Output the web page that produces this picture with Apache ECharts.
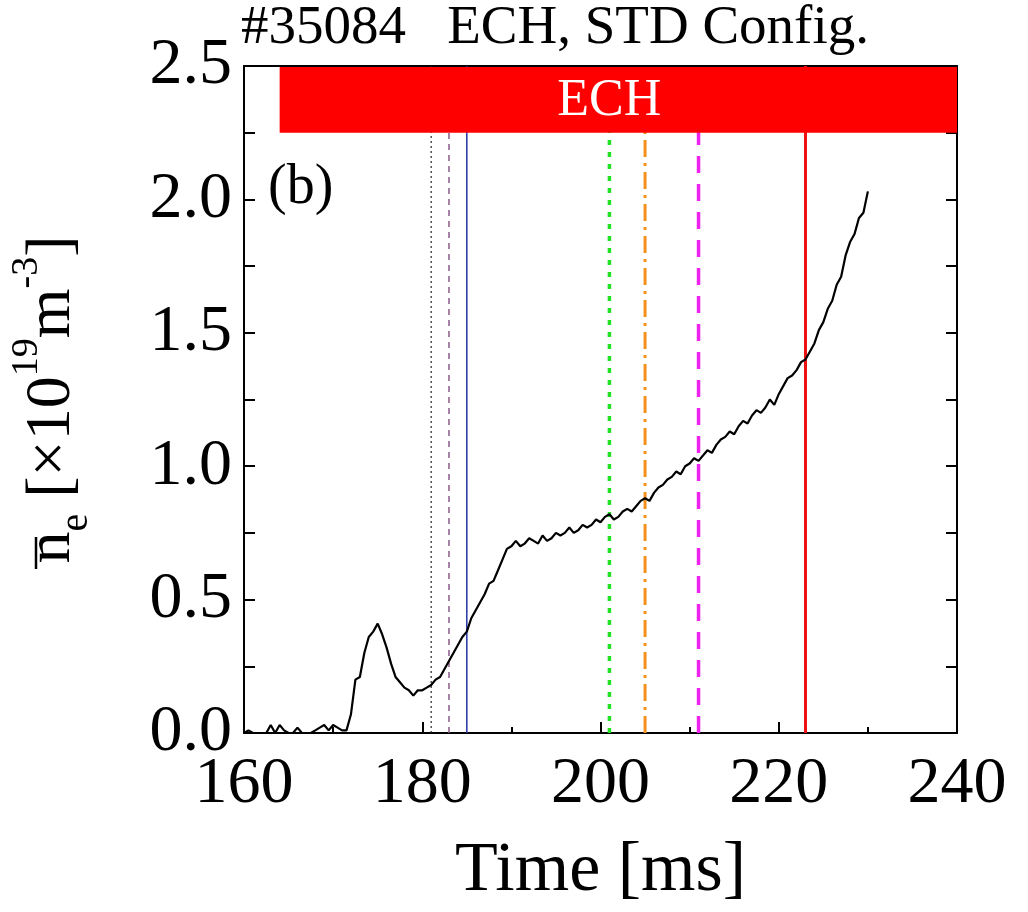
<!DOCTYPE html>
<html><head><meta charset="utf-8">
<script src="https://cdn.jsdelivr.net/npm/echarts@6/dist/echarts.min.js"></script>
<style>html,body{margin:0;padding:0;background:#fff}#c{width:1028px;height:912px}</style>
</head><body><div id="c"></div>
<script>
const timeMs = [
160.0,160.5,161.0,161.5,162.0,162.5,163.0,163.5,164.0,164.5,165.0,165.5,166.0,166.5,167.0,167.5,168.0,168.5,169.0,169.5,
170.0,170.5,171.0,171.5,172.0,172.5,173.0,173.5,174.0,174.5,175.0,175.5,176.0,176.5,177.0,177.5,178.0,178.5,179.0,179.5,
180.0,180.5,181.0,181.5,182.0,182.5,183.0,183.5,184.0,184.5,185.0,185.5,186.0,186.5,187.0,187.5,188.0,188.5,189.0,189.5,
190.0,190.5,191.0,191.5,192.0,192.5,193.0,193.5,194.0,194.5,195.0,195.5,196.0,196.5,197.0,197.5,198.0,198.5,199.0,199.5,
200.0,200.5,201.0,201.5,202.0,202.5,203.0,203.5,204.0,204.5,205.0,205.5,206.0,206.5,207.0,207.5,208.0,208.5,209.0,209.5,
210.0,210.5,211.0,211.5,212.0,212.5,213.0,213.5,214.0,214.5,215.0,215.5,216.0,216.5,217.0,217.5,218.0,218.5,219.0,219.5,
220.0,220.5,221.0,221.5,222.0,222.5,223.0,223.5,224.0,224.5,225.0,225.5,226.0,226.5,227.0,227.5,228.0,228.5,229.0,229.5,
230.0];
const density = [
0.00,0.01,0.00,0.00,0.00,0.00,0.03,0.00,0.03,0.01,0.00,0.00,0.02,0.00,0.00,0.00,0.01,0.02,0.03,0.01,
0.03,0.02,0.01,0.01,0.07,0.20,0.21,0.30,0.36,0.38,0.41,0.37,0.32,0.26,0.21,0.19,0.17,0.16,0.14,0.16,
0.16,0.17,0.18,0.20,0.21,0.24,0.27,0.30,0.33,0.36,0.38,0.43,0.46,0.49,0.52,0.56,0.57,0.61,0.65,0.69,
0.70,0.72,0.70,0.71,0.73,0.72,0.71,0.74,0.72,0.73,0.75,0.74,0.75,0.77,0.75,0.76,0.78,0.77,0.78,0.80,
0.79,0.81,0.82,0.80,0.81,0.83,0.84,0.83,0.85,0.87,0.88,0.87,0.90,0.92,0.93,0.95,0.96,0.98,0.97,1.00,
1.01,1.03,1.02,1.04,1.06,1.05,1.08,1.10,1.11,1.13,1.12,1.15,1.17,1.16,1.19,1.21,1.20,1.22,1.25,1.23,
1.27,1.30,1.33,1.34,1.36,1.39,1.40,1.43,1.46,1.51,1.54,1.59,1.62,1.68,1.71,1.79,1.84,1.87,1.93,1.95,
2.03];
const markerTimes = [181, 183, 185, 201, 205, 211, 223];
const markerColors = ['#222222', '#8a5a8a', '#2233aa', '#22e022', '#f5901e', '#ee22ee', '#ee1111'];
const markerWidths = [1.2, 1.5, 1.5, 3.5, 3, 3.5, 3];
const markerDashes = [[2, 3], [6, 5], 'solid', [5, 7], [17, 6, 3, 6], [17, 11], 'solid'];
const echBar = [[164, 240, 2.25, 2.5]];
const echLabel = 'ECH';
const xTickLabels = {160: '160', 180: '180', 200: '200', 220: '220', 240: '240'};
const yTickLabels = {0: '0.0', 0.5: '0.5', 1: '1.0', 1.5: '1.5', 2: '2.0', 2.5: '2.5'};
const titleText = '#35084   ECH, STD Config.';
const panelText = '(b)';

const FONT = '"Liberation Serif", "Times New Roman", serif';
const chart = echarts.init(document.getElementById('c'), null, {renderer: 'canvas'});

const curve = timeMs.map((t, i) => [t, density[i]]);
const markerSeries = markerTimes.map((t, i) => ({
  type: 'line', z: 2, silent: true, showSymbol: false, animation: false,
  data: [[t, 0], [t, 2.5]],
  lineStyle: {color: markerColors[i], width: markerWidths[i], type: markerDashes[i]}
}));

const axisCommon = {
  axisLine: {show: true, onZero: false, lineStyle: {color: '#000', width: 2}},
  splitLine: {show: false}
};

chart.setOption({
  animation: false,
  backgroundColor: '#fff',
  title: [
    {text: titleText, left: 241, top: 1, padding: 0,
     textStyle: {fontFamily: FONT, fontSize: 55, fontWeight: 'normal', color: '#000'}},
    {text: panelText, left: 268, top: 160, padding: 0,
     textStyle: {fontFamily: FONT, fontSize: 56, fontWeight: 'normal', color: '#000'}}
  ],
  grid: {left: 241, right: 71, top: 66, bottom: 166, containLabel: false},
  xAxis: [
    Object.assign({}, axisCommon, {
      type: 'value', min: 160, max: 240, interval: 20, position: 'bottom',
      name: 'Time [ms]', nameLocation: 'middle', nameGap: 104,
      nameTextStyle: {fontFamily: FONT, fontSize: 70, color: '#000'},
      axisTick: {show: true, inside: true, length: 11, lineStyle: {color: '#000', width: 2}},
      minorTick: {show: true, splitNumber: 2, length: 6, lineStyle: {color: '#000', width: 2}},
      axisLabel: {margin: 19, fontFamily: FONT, fontSize: 66, color: '#000',
                  formatter: v => xTickLabels[v] || ''}
    }),
    Object.assign({}, axisCommon, {
      type: 'value', min: 160, max: 240, interval: 20, position: 'top',
      axisTick: {show: true, inside: true, length: 11, lineStyle: {color: '#000', width: 2}},
      minorTick: {show: true, splitNumber: 2, length: 6, lineStyle: {color: '#000', width: 2}},
      axisLabel: {show: false}
    })
  ],
  yAxis: [
    Object.assign({}, axisCommon, {
      type: 'value', min: 0, max: 2.5, interval: 0.25, position: 'left',
      name: '{n|n}{e|e}{b| [×10}{s|19}{b|m}{s|-3}{b|]}',
      nameLocation: 'middle', nameRotate: 90, nameGap: 148,
      nameTextStyle: {
        fontFamily: FONT, color: '#000',
        rich: {
          n: {fontFamily: FONT, fontSize: 64, lineHeight: 88, color: '#000'},
          b: {fontFamily: FONT, fontSize: 64, lineHeight: 88, color: '#000'},
          e: {fontFamily: FONT, fontSize: 40, lineHeight: 40, verticalAlign: 'bottom', color: '#000'},
          s: {fontFamily: FONT, fontSize: 38, lineHeight: 38, verticalAlign: 'top', color: '#000'}
        }
      },
      axisTick: {show: true, inside: true, length: 11, lineStyle: {color: '#000', width: 2}},
      axisLabel: {margin: 12, fontFamily: FONT, fontSize: 66, color: '#000',
                  formatter: v => { const k = Math.round(v * 100) / 100; return yTickLabels[k] || ''; }}
    }),
    Object.assign({}, axisCommon, {
      type: 'value', min: 0, max: 2.5, interval: 0.25, position: 'right',
      axisTick: {show: true, inside: true, length: 11, lineStyle: {color: '#000', width: 2}},
      axisLabel: {show: false}
    })
  ],
  series: markerSeries.concat([
    {
      type: 'line', z: 3, silent: true, showSymbol: false, data: curve,
      lineStyle: {color: '#000', width: 2.2}
    },
    {
      type: 'custom', z: 5, silent: true, data: echBar,
      encode: {x: [0, 1], y: [2, 3]},
      renderItem: function (params, api) {
        const p1 = api.coord([api.value(0), api.value(3)]);
        const p2 = api.coord([api.value(1), api.value(2)]);
        return {
          type: 'group',
          children: [
            {type: 'rect', shape: {x: p1[0], y: p1[1] + 1, width: p2[0] - p1[0], height: p2[1] - p1[1] - 1},
             style: {fill: '#ff0000'}},
            {type: 'text', style: {text: echLabel, x: (p1[0] + p2[0]) / 2 - 9, y: (p1[1] + p2[1]) / 2 + 2,
             align: 'center', verticalAlign: 'middle', fill: '#fff',
             font: '52px "Liberation Serif", serif'}}
          ]
        };
      }
    }
  ]),
  graphic: [
    {type: 'line', id: 'nbar', shape: {x1: 36, y1: 537, x2: 36, y2: 569},
     style: {stroke: '#000', lineWidth: 2.5}}
  ]
});
</script>
</body></html>
